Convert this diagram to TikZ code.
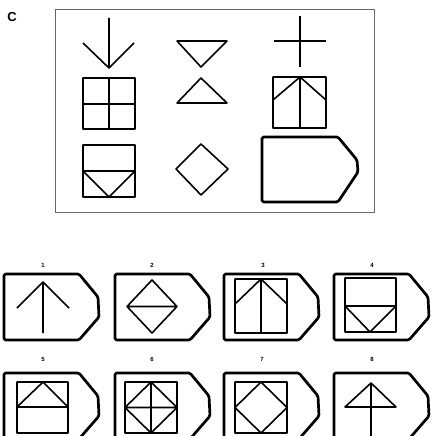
\documentclass[tikz,border=0pt]{standalone}
\usepackage{fontspec}
\setsansfont{Liberation Sans}
\begin{document}
\begin{tikzpicture}[x=1pt,y=-1pt,line join=round,
  fig/.style={line width=1.6pt},
  tagline/.style={line width=2.7pt,rounded corners=1.5pt},
  num/.style={font=\sffamily\bfseries\fontsize{6}{6}\selectfont,inner sep=0pt}]
  \useasboundingbox (0,0) rectangle (431,436);
  \clip (0,0) rectangle (431,436);
  % problem frame
  \node[font=\sffamily\bfseries\fontsize{13}{13}\selectfont,inner sep=0pt] (lbl) at (12,17) {C};
  \draw[black!60,line width=0.9pt] (55,9) rectangle (374,212);
  % row 1
  \draw[fig] (109,18) -- (109,68) (83,43) -- (109,68) -- (134,43);
  \draw[fig] (177,41) -- (227,41) -- (201,67) -- cycle;
  \draw[fig] (300,16) -- (300,67) (274,41) -- (326,41);
  % row 2
  \draw[fig] (83,78) rectangle (135,129) (109,78) -- (109,129) (83,104) -- (135,104);
  \draw[fig] (177,103) -- (227,103) -- (201,78) -- cycle;
  \draw[fig] (273,77) rectangle (326,128) (300,77) -- (300,128) (273,100) -- (300,77) -- (326,100);
  % row 3
  \draw[fig] (83,145) rectangle (135,197) (83,171) -- (135,171) (83,171) -- (109,197) -- (135,171);
  \draw[fig] (201,144) -- (228,169) -- (201,195) -- (176,169) -- cycle;
  \draw[tagline] (262,137) -- (338,137) -- (357,160) -- (358,172) -- (338,202) -- (262,202) -- cycle;
  % answer outlines
  \foreach \lx/\ty/\nx/\ny/\n in {4/274/43/265/1,115/274/152/265/2,224/274/263/265/3,334/274/372/265/4,
                                  4/373/43/359/5,115/373/152/359/6,224/373/262/359/7,334/373/372/359/8}{
    \draw[tagline,shift={(\lx,\ty)}] (0,0) -- (75,0) -- (94,23) -- (95,43) -- (75,66) -- (0,66) -- cycle;
    \node[num] (n\n) at (\nx,\ny) {\n};
  }
  % answer 1-4
  \draw[fig] (43,282) -- (43,333) (17,308) -- (43,282) -- (69,308);
  \draw[fig] (152,280) -- (177,306.5) -- (152,333) -- (127,306.5) -- cycle (127,306.5) -- (177,306.5);
  \draw[fig] (235,279) rectangle (287,333) (261,279) -- (261,333) (235,304) -- (261,279) -- (287,304);
  \draw[fig] (345,278) rectangle (396,332) (345,306) -- (396,306) (345,306) -- (370,332) -- (396,306);
  % answer 5-8
  \draw[fig] (17,382) rectangle (68,433) (17,407) -- (68,407) (17,407) -- (43,382) -- (68,407);
  \draw[fig] (125,382) rectangle (177,433) (151,382) -- (151,433) (125,407.5) -- (177,407.5)
             (151,382) -- (177,407.5) -- (151,433) -- (125,407.5) -- cycle;
  \draw[fig] (235,382) rectangle (287,433) (261,382) -- (287,407.5) -- (261,433) -- (235,407.5) -- cycle;
  \draw[fig] (371,383) -- (371,436) (345,407) -- (396,407) -- (371,383) -- cycle;
\end{tikzpicture}
\end{document}
